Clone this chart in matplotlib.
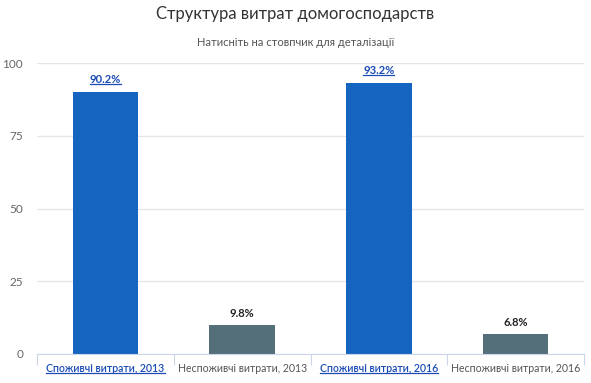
import numpy as np
import matplotlib
matplotlib.use("Agg")
import matplotlib.pyplot as plt
from matplotlib.lines import Line2D

plt.rcParams['font.family'] = ['Lato', 'DejaVu Sans']

# data
categories = ['Споживчі витрати, 2013', 'Неспоживчі витрати, 2013',
              'Споживчі витрати, 2016', 'Неспоживчі витрати, 2016']
values = [90.2, 9.8, 93.2, 6.8]
drilldown = [True, False, True, False]
colors = ['#1565c0', '#546e7a', '#1565c0', '#546e7a']
yticks = [0, 25, 50, 75, 100]

fig = plt.figure(figsize=(5.91, 3.83), dpi=100)
ax = fig.add_axes([37/591, 1 - 354/383, 547/591, 291/383])

x = np.arange(len(categories))
ax.bar(x, values, width=0.48, color=colors, zorder=3)
ax.set_xlim(-0.5, len(categories) - 0.5)
ax.set_ylim(0, 100)
ax.set_yticks(yticks)
ax.set_yticklabels([str(v) for v in yticks], fontsize=8.5, color='#666666')
ax.yaxis.grid(True, color='#e6e6e6', linewidth=1, zorder=0)
ax.tick_params(axis='y', length=0, pad=10)
for s in ['top', 'right', 'left']:
    ax.spines[s].set_visible(False)
ax.spines['bottom'].set_color('#ccd6eb')
ax.spines['bottom'].set_zorder(4)

# category ticks at slot edges
ax.set_xticks(np.arange(len(categories) + 1) - 0.5)
ax.set_xticklabels([])
ax.tick_params(axis='x', length=8, color='#ccd6eb')

link = '#1a4bb5'
texts = []
for i, (c, v, d) in enumerate(zip(categories, values, drilldown)):
    t = ax.text(i, -3, c, ha='center', va='top', fontsize=7.6,
                color=link if d else '#555555', fontweight='semibold' if d else 'normal')
    texts.append((t, d, link))
    t2 = ax.text(i, v + 2.2, f'{v}%', ha='center', va='bottom', fontsize=8,
                 color=link if d else '#222222', fontweight='bold')
    texts.append((t2, d, link))

fig.text(0.5, 1 - 14/383, 'Структура витрат домогосподарств', ha='center', va='center',
         fontsize=12, color='#333333')
fig.text(0.5, 1 - 42/383, 'Натисніть на стовпчик для деталізації', ha='center', va='center',
         fontsize=8, color='#555555')

# underline the drilldown links
fig.canvas.draw()
r = fig.canvas.get_renderer()
for t, d, col in texts:
    if not d:
        continue
    bb = t.get_window_extent(r)
    yy = bb.y0 + 1
    fig.add_artist(Line2D([bb.x0 / fig.bbox.width, bb.x1 / fig.bbox.width],
                          [yy / fig.bbox.height, yy / fig.bbox.height],
                          color=col, linewidth=0.9))

fig.savefig('out.png', dpi=100)
